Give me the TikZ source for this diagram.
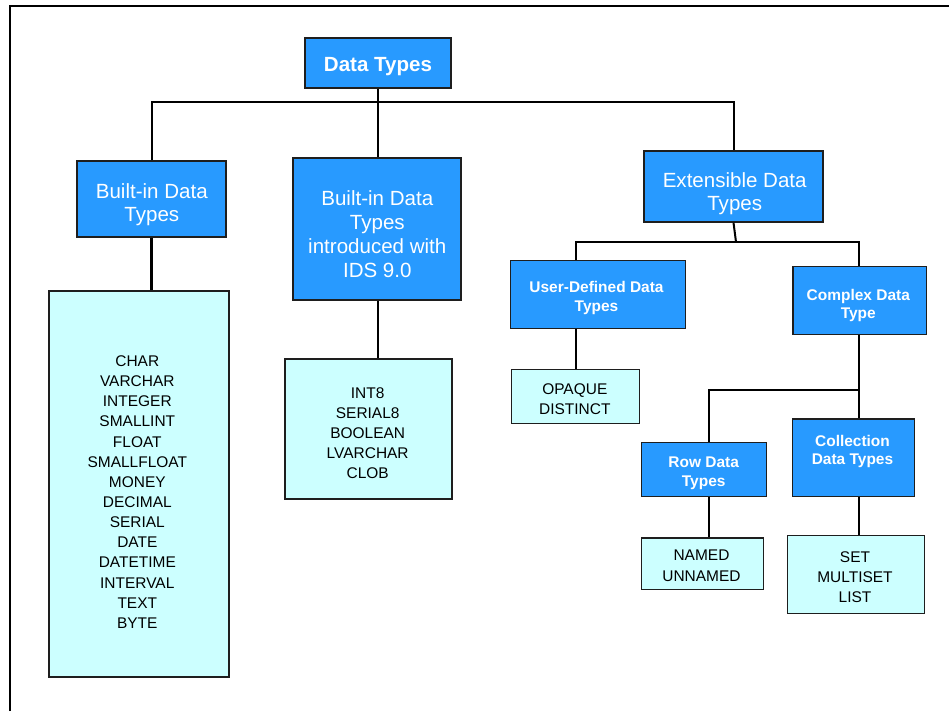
\documentclass[tikz,border=0pt]{standalone}
\usepackage{fontspec}
\setmainfont{Liberation Sans}
\definecolor{boxblue}{RGB}{40,154,255}
\definecolor{boxcyan}{RGB}{204,255,255}
\definecolor{edgegray}{RGB}{30,30,30}
\tikzset{
  bluebox/.style={draw=edgegray, line width=0.9pt, fill=boxblue, inner sep=0pt},
  cyanbox/.style={draw=edgegray, line width=0.9pt, fill=boxcyan, inner sep=0pt},
  bigtxt/.style={text=white, align=center, inner sep=0pt, font=\fontsize{15.4}{17}\selectfont},
  bigbold/.style={text=white, align=center, inner sep=0pt, font=\fontsize{15.4}{17}\selectfont\bfseries},
  smallbold/.style={text=white, align=center, inner sep=0pt, font=\fontsize{11.6}{14}\selectfont\bfseries},
  listtxt/.style={text=black, align=center, inner sep=0pt, font=\fontsize{11.6}{15.1}\selectfont},
  conn/.style={line width=1.5pt, black},
  thickconn/.style={line width=2.2pt, black}
}
\begin{document}
\begin{tikzpicture}[x=0.75pt, y=-0.75pt]
\useasboundingbox (0,0) rectangle (949,711);
% frame
\draw[line width=1.8pt] (10,711) -- (10,6) -- (949,6);

% boxes
\node[bluebox, minimum width=109.5pt, minimum height=37.5pt] (dt) at (378,63) {};
\node[bluebox, minimum width=111.75pt, minimum height=57pt] (bi) at (151.5,199) {};
\node[cyanbox, minimum width=135pt, minimum height=289.5pt] (bilist) at (139,484) {};
\node[bluebox, minimum width=126pt, minimum height=106.5pt] (ids) at (377,229) {};
\node[cyanbox, minimum width=125.25pt, minimum height=105pt] (idslist) at (368.5,429) {};
\node[bluebox, minimum width=134.25pt, minimum height=53.25pt] (ext) at (733.5,186.5) {};
\node[bluebox, minimum width=131.25pt, minimum height=50.7pt] (ud) at (598,294.5) {};
\node[cyanbox, minimum width=96pt, minimum height=40.5pt] (op) at (575.7,396.3) {};
\node[bluebox, minimum width=100pt, minimum height=51pt] (cx) at (859.7,300.7) {};
\node[bluebox, minimum width=94pt, minimum height=40.8pt] (row) at (704,469.5) {};
\node[bluebox, minimum width=91.5pt, minimum height=58.3pt] (coll) at (853.3,457.8) {};
\node[cyanbox, minimum width=91.2pt, minimum height=38.7pt] (nm) at (702.5,563.7) {};
\node[cyanbox, minimum width=102.75pt, minimum height=59pt] (set) at (855.8,574.5) {};

% texts
\node[bigbold] (dtT) at (378,67) {Data Types};
\node[bigtxt] (biT) at (151.8,205) {Built-in Data\\Types};
\node[bigtxt, font=\fontsize{15.4}{18}\selectfont] (idsT) at (377.3,234) {Built-in Data\\Types\\introduced with\\IDS 9.0};
\node[listtxt] (bilistT) at (137.3,492) {CHAR\\VARCHAR\\INTEGER\\SMALLINT\\FLOAT\\SMALLFLOAT\\MONEY\\DECIMAL\\SERIAL\\DATE\\DATETIME\\INTERVAL\\TEXT\\BYTE};
\node[listtxt] (idslistT) at (367.7,433) {INT8\\SERIAL8\\BOOLEAN\\LVARCHAR\\CLOB};
\node[bigtxt] (extT) at (734.7,193.5) {Extensible Data\\Types};
\node[smallbold] (udT) at (596.5,298.3) {User-Defined Data\\Types};
\node[listtxt, font=\fontsize{11.6}{15}\selectfont] (opT) at (574.8,398.7) {OPAQUE\\DISTINCT};
\node[smallbold] (cxT) at (858.3,305.6) {Complex Data\\Type};
\node[smallbold] (rowT) at (703.7,473) {Row Data\\Types};
\node[smallbold, font=\fontsize{11.6}{13.5}\selectfont\bfseries] (collT) at (852.5,451.6) {Collection\\Data Types};
\node[listtxt, font=\fontsize{11.6}{15.75}\selectfont] (nmT) at (701.5,565.8) {NAMED\\UNNAMED};
\node[listtxt] (setT) at (855,577.5) {SET\\MULTISET\\LIST};

% junction coordinates
\coordinate (j1) at (378,102);
\coordinate (j2) at (736,242);
\coordinate (udc) at (576,242);
\coordinate (j3) at (860,390);
\coordinate (rowc) at (709,390);
\coordinate (cxc) at (859,335);

% connectors
\draw[conn] (dt.south) -- (j1);
\draw[conn] (bi.north) |- (j1) -| (ext.north);
\draw[conn] (j1) -- (j1 |- ids.north);
\draw[thickconn] (bi.south) -- (bi.south |- bilist.north);
\draw[conn] (j1 |- ids.south) -- (j1 |- idslist.north);
\draw[conn] (ext.south) -- (j2);
\draw[conn] (udc |- ud.north) -- (udc) -| (cxc |- cx.north);
\draw[conn] (udc |- ud.south) -- (udc |- op.north);
\draw[conn] (cxc) -- (cxc |- coll.north);
\draw[conn] (rowc |- row.north) -- (rowc) -- (j3);
\draw[conn] (rowc |- row.south) -- (rowc |- nm.north);
\draw[conn] (cxc |- coll.south) -- (cxc |- set.north);
\end{tikzpicture}
\end{document}
